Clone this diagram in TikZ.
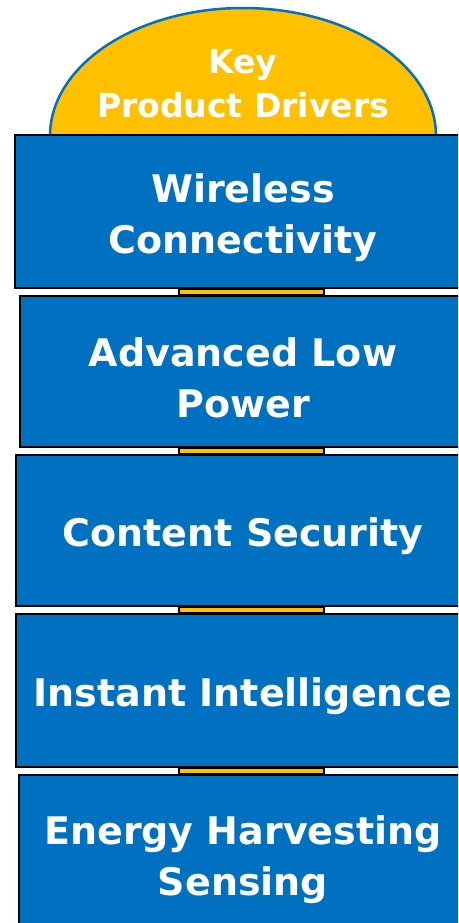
\documentclass[tikz,border=0pt]{standalone}
\usepackage{fontspec}
\setmainfont{DejaVu Sans}
\usepackage{tikz}
\definecolor{boxblue}{HTML}{0070C0}
\definecolor{gold}{HTML}{FFC000}

\begin{document}
\begin{tikzpicture}
		[x=1pt,y=-1pt,every node/.style={text=white,align=center,inner sep=0pt},
		driver/.style={rectangle,draw=black,line width=2pt,fill=boxblue},
		dtext/.style={yshift=-6pt,font=\fontsize{38}{51}\selectfont\bfseries},
		link/.style={draw=black,line width=1.5pt,fill=gold}]
		\useasboundingbox (0,0) rectangle (458,923);
		\clip (0,0) rectangle (458,923);
		\draw[boxblue,line width=2.5pt,fill=gold] (50,136) arc[start angle=180,end angle=360,x radius=193,y radius=128];
		\node[font=\fontsize{33}{44}\selectfont\bfseries] (top) at (243,84) {Key\\Product Drivers};
		\node[driver,minimum width=456pt,minimum height=153pt,label={[dtext]center:{Wireless\\Connectivity}}] (d1) at (243,211.5) {};
		\node[driver,minimum width=446pt,minimum height=151pt,label={[dtext]center:{Advanced Low\\Power}}] (d2) at (243,371.5) {};
		\node[driver,minimum width=454pt,minimum height=151pt,label={[dtext]center:{Content Security}}] (d3) at (243,530.5) {};
		\node[driver,minimum width=454pt,minimum height=153pt,label={[dtext]center:{Instant Intelligence}}] (d4) at (243,690.5) {};
		\node[driver,minimum width=448pt,minimum height=158pt,label={[dtext]center:{Energy Harvesting\\Sensing}}] (d5) at (243,854) {};
		
		\foreach \from/\to in {d1/d2,d2/d3,d3/d4,d4/d5}
		\draw[link] ([xshift=-64pt]\from.south) rectangle ([xshift=81pt]\to.north);
		\end{tikzpicture}
\end{document}
